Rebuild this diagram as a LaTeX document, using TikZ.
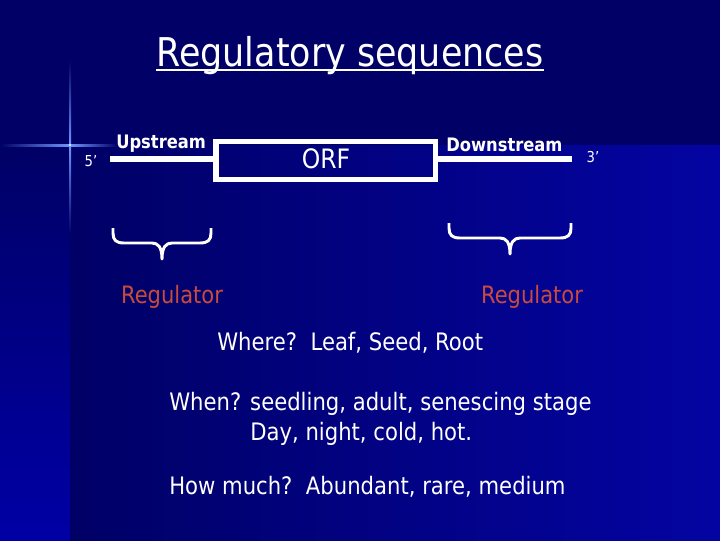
\documentclass[tikz,border=0pt]{standalone}
\usepackage{fontspec}
\setmainfont{DejaVu Sans}[FakeStretch=0.88]

\definecolor{navytop}{RGB}{0,0,102}
\definecolor{navyright}{RGB}{4,4,162}
\definecolor{navystrip}{RGB}{0,0,165}
\definecolor{sparkblue}{RGB}{110,150,255}
\definecolor{regred}{RGB}{200,75,60}

% brace under a stretch of DNA: #1 = top left corner, #2 = width
\newcommand{\regbrace}[2]{%
    \begin{scope}[shift={(#1)}]
        \draw[curly] (0,0) -- (0,5)
            .. controls (0,12) and (3,15) .. (11,15) -- (#2/2-10,15)
            .. controls (#2/2-4,15) and (#2/2,19) .. (#2/2,31)
            .. controls (#2/2,19) and (#2/2+4,15) .. (#2/2+10,15) -- (#2-11,15)
            .. controls (#2-3,15) and (#2,12) .. (#2,5) -- (#2,0);
    \end{scope}}

\begin{document}
\begin{tikzpicture}[x=0.025cm,y=-0.025cm,
    bodytext/.style={text=white,font=\fontsize{17.1}{19}\selectfont,inner sep=0pt},
    smalltext/.style={text=white,font=\fontsize{10.7}{12}\selectfont,inner sep=0pt},
    streamtext/.style={text=white,font=\bfseries\fontsize{13.2}{15}\selectfont,inner sep=0pt},
    regtext/.style={text=regred,font=\fontsize{17}{19}\selectfont,inner sep=0pt},
    dnaline/.style={white,line width=3.6pt},
    curly/.style={white,line width=2.1pt,line join=round}]
    % background:
    \fill[navytop] (0,0) rectangle (720,540);
    \shade[top color=navytop,bottom color=navystrip] (0,145) rectangle (70,540);
    \shade[left color=navytop,right color=navyright] (70,145) rectangle (720,540);
    % sparkle:
    \shade[left color=navytop,right color=sparkblue] (0,144) rectangle (70,146);
    \shade[left color=sparkblue,right color=navytop] (70,144) rectangle (118,146);
    \shade[top color=navytop,bottom color=sparkblue] (69,60) rectangle (71,145);
    \shade[top color=sparkblue,bottom color=navytop] (69,145) rectangle (71,235);
    \fill[white] (70,145) circle (1.2);
    % title:
    \node[text=white,font=\fontsize{28.2}{33}\selectfont,inner sep=0pt,anchor=base] (title) at (350,66) {Regulatory sequences};
    \draw[white,line width=2pt] (title.west |- 0,70) -- (title.east |- 0,70);
    % gene:
    \coordinate (five) at (110,159);
    \coordinate (three) at (572,159);
    \node[draw=white,line width=3.6pt,minimum width=5.475cm,minimum height=0.95cm,inner sep=0pt] (orf) at (325.5,160.5) {};
    \node[text=white,font=\fontsize{19}{21}\selectfont,inner sep=0pt,anchor=base] (orftext) at (326,168) {ORF};
    \draw[dnaline] (five) -- (orf.west |- five);
    \draw[dnaline] (orf.east |- three) -- (three);
    \node[smalltext,anchor=base] (fivelabel) at (91,166) {5’};
    \node[smalltext,anchor=base] (threelabel) at (593,162) {3’};
    \node[streamtext,anchor=base west] (up) at (116,148) {Upstream};
    \node[streamtext,anchor=base west] (down) at (446,151) {Downstream};
    % braces:
    \coordinate (upbrace) at (113,228);
    \coordinate (downbrace) at (449,223);
    \regbrace{upbrace}{98}
    \regbrace{downbrace}{122}
    \node[regtext,anchor=base] (regup) at (172,303) {Regulator};
    \node[regtext,anchor=base] (regdown) at (532,303) {Regulator};
    % questions:
    \node[bodytext,anchor=base west] (where) at (217,350) {Where?\ \ Leaf, Seed, Root};
    \node[bodytext,anchor=base west] (when) at (169,410) {When? seedling, adult, senescing stage};
    \node[bodytext,anchor=base west] (day) at (250,440) {Day, night, cold, hot.};
    \node[bodytext,anchor=base west] (howmuch) at (169,494) {How much?\ \ Abundant, rare, medium};
\end{tikzpicture}
\end{document}
